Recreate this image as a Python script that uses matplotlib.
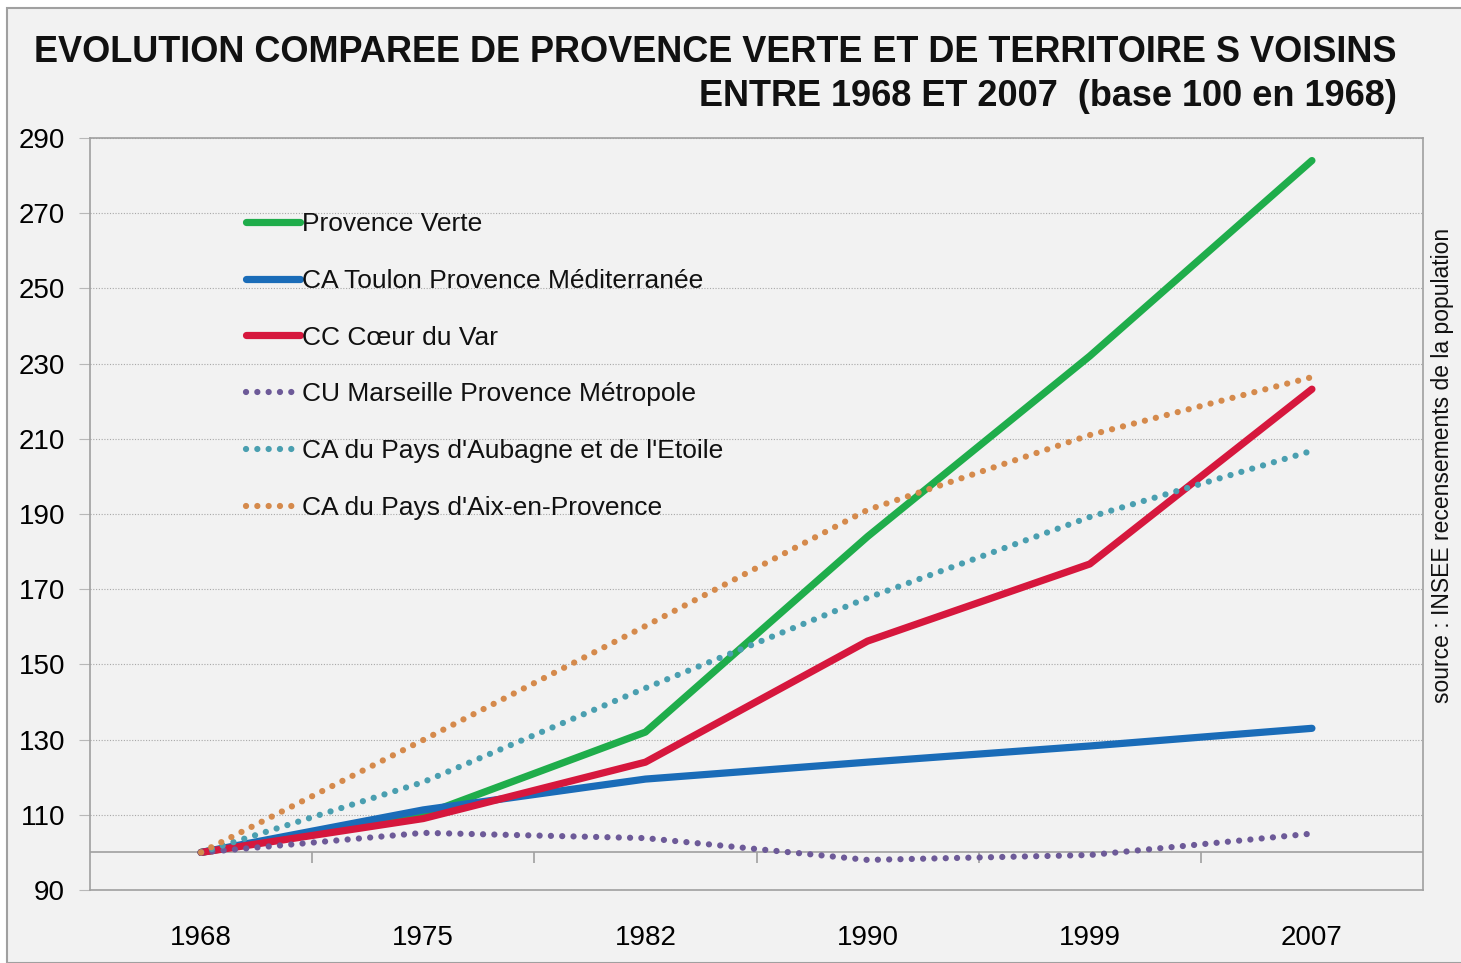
import matplotlib
matplotlib.use("Agg")
import matplotlib.pyplot as plt
from matplotlib import font_manager

# data (base 100 en 1968)
years = ["1968", "1975", "1982", "1990", "1999", "2007"]
provence_verte = [100, 110, 132, 184, 232, 284]
toulon = [100, 111.3, 119.5, 124, 128.3, 133]
coeur_du_var = [100, 109, 124, 156.2, 176.7, 223.2]
marseille = [100, 105.2, 103.8, 98, 99.3, 105]
aubagne = [100, 118.7, 143.7, 167.7, 189.2, 206.8]
aix = [100, 129.9, 160.2, 191.1, 211, 226.4]

series = [
    ("Provence Verte", provence_verte, "#1fad4b", "solid"),
    ("CA Toulon Provence Méditerranée", toulon, "#1a6cb8", "solid"),
    ("CC Cœur du Var", coeur_du_var, "#d6173d", "solid"),
    ("CU Marseille Provence Métropole", marseille, "#6d5a98", "dotted"),
    ("CA du Pays d'Aubagne et de l'Etoile", aubagne, "#4a9fb0", "dotted"),
    ("CA du Pays d'Aix-en-Provence", aix, "#d58a4c", "dotted"),
]

names = {f.name for f in font_manager.fontManager.ttflist}
narrow = "Liberation Sans Narrow" if "Liberation Sans Narrow" in names else "Liberation Sans"
plt.rcParams["font.family"] = [narrow, "DejaVu Sans"]

bg = "#f2f2f2"
fig = plt.figure(figsize=(14.61, 9.63), dpi=100, facecolor="white")
fig.patches.append(plt.Rectangle((7 / 1461, 0), 1, 1 - 8 / 963, transform=fig.transFigure,
                                 facecolor=bg, edgecolor="#a0a0a0", linewidth=1.5, zorder=-1))

ax = fig.add_axes([90 / 1461, 73 / 963, 1333 / 1461, 752 / 963])
ax.set_facecolor(bg)

x = list(range(len(years)))
for label, vals, color, style in series:
    if style == "solid":
        ax.plot(x, vals, color=color, linewidth=5.2, solid_capstyle="round",
                solid_joinstyle="round", label=label, zorder=3)
    else:
        ax.plot(x, vals, color=color, linewidth=4.5, linestyle=(0, (0.01, 1.8)),
                dash_capstyle="round", label=label, zorder=3)

ax.set_xlim(-0.5, 5.5)
ax.set_ylim(90, 290)
ax.set_yticks(range(90, 291, 20))
ax.set_xticks(x)
ax.set_xticklabels(years)
ax.tick_params(axis="x", length=0, pad=25, labelsize=20)
ax.tick_params(axis="y", length=8, color="#b8b8b8", width=0.8, pad=10, labelsize=20)
ax.grid(axis="y", color="#a8a8a8", linestyle=(0, (1, 1.5)), linewidth=0.8)
ax.set_axisbelow(True)
for sp in ax.spines.values():
    sp.set_color("#a0a0a0")
    sp.set_linewidth(1.2)

# category axis crossing at 100
ax.axhline(100, color="#a0a0a0", linewidth=1.2, zorder=2)
ax.vlines([i + 0.5 for i in x[:-1]], 97.3, 100, color="#a0a0a0", linewidth=1.2, zorder=2)

leg = ax.legend(loc="upper left", bbox_to_anchor=(0.099, 0.933), frameon=False,
                fontsize=19, handlelength=2.05, handletextpad=0.1, labelspacing=1.24)
for t in leg.get_texts():
    t.set_color("#111111")

fig.text(1397 / 1461, 1 - 53 / 963, "EVOLUTION COMPAREE DE PROVENCE VERTE ET DE TERRITOIRE S VOISINS",
         ha="right", va="center", fontsize=26, fontweight="bold", color="#111111")
fig.text(1397 / 1461, 1 - 96 / 963, "ENTRE 1968 ET 2007  (base 100 en 1968)",
         ha="right", va="center", fontsize=26, fontweight="bold", color="#111111")
fig.text(1443 / 1461, 1 - 465 / 963, "source : INSEE recensements de la population",
         rotation=90, ha="center", va="center", fontsize=16.5, color="#111111")

fig.savefig("out.png", dpi=100, facecolor=fig.get_facecolor())
